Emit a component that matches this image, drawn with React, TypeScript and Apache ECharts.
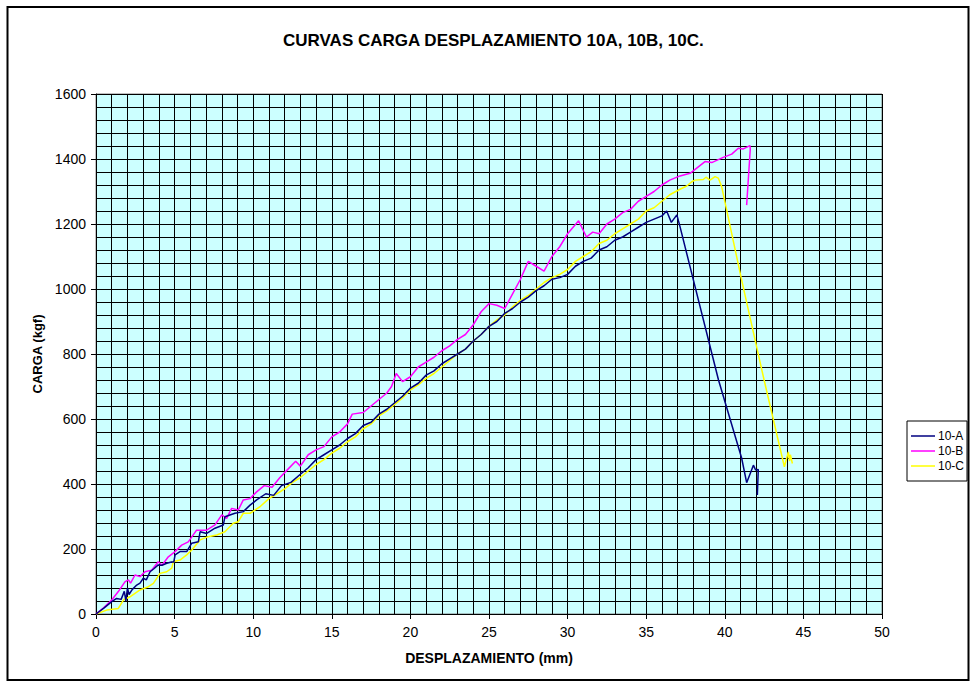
import React, { useEffect, useRef } from "react";
import * as echarts from "echarts";

const titleText = "CURVAS CARGA DESPLAZAMIENTO 10A, 10B, 10C.";
const xAxisName = "DESPLAZAMIENTO (mm)";
const yAxisName = "CARGA (kgf)";
const seriesNames = ["10-A", "10-B", "10-C"];
const seriesColors = ["#000080", "#FF00FF", "#FFFF00"];

// 10-A
const aX = [0, 0.5, 1.0, 1.31, 1.6, 1.8, 1.9, 2.0, 2.1, 2.3, 2.59, 2.8, 3.01, 3.2, 3.44, 3.7, 3.96, 4.2, 4.5, 4.8, 4.95, 5.03, 5.34, 5.77, 6.09, 6.51, 6.62, 7.04, 7.57, 8.1, 8.2, 8.84, 9.37, 9.8, 10.22, 10.8, 11.3, 11.8, 12.4, 13, 13.5, 14, 14.5, 15, 15.5, 16, 16.5, 17, 17.5, 18, 18.5, 19, 19.5, 20, 20.5, 21, 21.5, 22, 22.5, 23, 23.5, 24, 24.5, 25, 25.5, 26, 26.5, 27, 27.5, 28, 28.5, 29, 29.5, 30, 30.5, 31, 31.5, 32, 32.5, 33, 33.5, 34, 34.5, 35, 35.5, 36, 36.3, 36.6, 36.95, 37.15, 38.0, 39.6, 41.07, 41.39, 41.6, 41.82, 41.96, 42.13, 42.07];
const aY = [0, 18, 38, 48, 45, 70, 40, 80, 60, 75, 89, 95, 110, 105, 130, 140, 151, 150, 156, 160, 160, 182, 192, 192, 218, 222, 253, 248, 264, 274, 299, 310, 315, 335, 351, 370, 365, 395, 405, 430, 450, 475, 490, 505, 520, 540, 555, 580, 590, 615, 630, 650, 670, 695, 710, 735, 748, 770, 785, 800, 815, 840, 860, 885, 900, 925, 940, 960, 975, 995, 1010, 1030, 1035, 1045, 1070, 1085, 1095, 1120, 1130, 1150, 1160, 1175, 1190, 1205, 1215, 1225, 1240, 1205, 1228, 1192, 1028, 720, 480, 404, 430, 458, 443, 445, 366];

// 10-B
const bX = [0, 0.5, 1.0, 1.42, 1.84, 2.06, 2.2, 2.48, 2.8, 3.12, 3.54, 3.96, 4.2, 4.6, 5.03, 5.45, 5.87, 6.4, 7.04, 7.57, 8.0, 8.31, 8.63, 9.05, 9.37, 9.8, 10.2, 10.7, 11.2, 11.7, 12.2, 12.7, 13.0, 13.5, 14, 14.5, 15, 15.5, 16, 16.3, 17, 17.5, 18, 18.5, 18.8, 19.1, 19.5, 20, 20.5, 21, 21.5, 22, 22.5, 23, 23.5, 24, 24.5, 25, 25.5, 26, 26.5, 27, 27.5, 28, 28.5, 29, 29.5, 30, 30.7, 31.2, 31.6, 32, 32.5, 33, 33.5, 34, 34.5, 35, 35.5, 36, 36.5, 37.15, 37.79, 38.74, 39.17, 39.9, 40.44, 40.86, 41.18, 41.6, 41.62, 41.39];
const bY = [0, 20, 43, 69, 99, 105, 95, 120, 115, 130, 135, 161, 150, 176, 192, 212, 222, 258, 258, 274, 305, 294, 325, 320, 351, 355, 375, 395, 390, 420, 445, 470, 455, 490, 505, 515, 545, 560, 585, 615, 620, 640, 660, 680, 700, 740, 715, 730, 760, 775, 790, 810, 825, 845, 860, 890, 930, 955, 950, 940, 985, 1030, 1085, 1070, 1055, 1100, 1130, 1170, 1210, 1160, 1175, 1170, 1200, 1215, 1235, 1245, 1270, 1285, 1300, 1320, 1335, 1348, 1356, 1392, 1389, 1405, 1415, 1433, 1431, 1441, 1430, 1258];

// 10-C
const cX = [0, 0.68, 1.42, 1.74, 2.16, 2.8, 3.33, 3.65, 4.07, 4.5, 4.82, 4.92, 5.34, 5.77, 6.09, 6.62, 7.14, 7.68, 8.2, 8.73, 9.05, 9.37, 9.8, 10.43, 11, 11.5, 12, 12.5, 13, 13.5, 14, 14.5, 15, 15.5, 16, 16.5, 17, 17.5, 18, 18.5, 19, 19.5, 20, 20.5, 21, 21.5, 22, 22.5, 23, 23.5, 24, 24.5, 25, 25.5, 26, 26.5, 27, 27.5, 28, 28.5, 29, 29.5, 30, 30.5, 31, 31.5, 32, 32.5, 33, 33.5, 34, 34.5, 35, 35.5, 36, 36.5, 37.15, 37.58, 37.9, 38.1, 38.63, 38.8, 39.06, 39.38, 39.59, 39.8, 41.07, 42.5, 43.79, 44.04, 44.12, 44.17, 44.3];
const cY = [0, 12, 17, 43, 53, 74, 84, 94, 125, 130, 141, 161, 166, 182, 197, 228, 238, 243, 253, 279, 284, 310, 310, 330, 355, 370, 385, 405, 420, 440, 460, 475, 495, 510, 530, 545, 570, 585, 610, 625, 645, 665, 690, 705, 725, 740, 760, 780, 800, 815, 840, 860, 885, 905, 920, 945, 965, 980, 1000, 1020, 1035, 1045, 1060, 1085, 1100, 1115, 1140, 1150, 1170, 1185, 1200, 1215, 1240, 1250, 1270, 1290, 1307, 1317, 1330, 1335, 1337, 1344, 1335, 1346, 1341, 1315, 1028, 720, 453, 499, 470, 490, 463];

const pairs = (xs: number[], ys: number[]) => xs.map((x, i) => [x, ys[i]]);

const FONT = "'Liberation Sans', Arial, sans-serif";

export default function App() {
  const ref = useRef<HTMLDivElement>(null);
  useEffect(() => {
    if (!ref.current) return;
    const chart = echarts.init(ref.current, null, { renderer: "svg" });
    const datasets = [pairs(aX, aY), pairs(bX, bY), pairs(cX, cY)];
    chart.setOption({
      animation: false,
      backgroundColor: "#ffffff",
      textStyle: { fontFamily: FONT },
      title: {
        text: titleText,
        left: 283,
        top: 32,
        padding: 0,
        textStyle: { fontSize: 17, fontWeight: "bold", color: "#000", fontFamily: FONT },
      },
      legend: {
        data: seriesNames,
        orient: "vertical",
        left: 907,
        top: 421,
        padding: [9, 3, 9, 4],
        icon: "rect",
        itemWidth: 24,
        itemHeight: 1.5,
        itemGap: 3,
        borderColor: "#000",
        borderWidth: 1,
        backgroundColor: "#fff",
        textStyle: { fontSize: 12, color: "#000", fontFamily: FONT, padding: [0, 0, 0, -2] },
      },
      grid: {
        left: 96,
        top: 94,
        right: 94,
        bottom: 73,
        show: true,
        backgroundColor: "#CCFFFF",
        borderColor: "#808080",
        borderWidth: 1,
      },
      xAxis: {
        type: "value",
        min: 0,
        max: 50,
        interval: 5,
        name: xAxisName,
        nameLocation: "middle",
        nameGap: 37,
        nameTextStyle: { fontSize: 14, fontWeight: "bold", color: "#000", fontFamily: FONT, verticalAlign: "top" },
        axisLine: { show: true, lineStyle: { color: "#000", width: 1 } },
        axisTick: { show: true, length: 5, lineStyle: { color: "#000" } },
        axisLabel: { fontSize: 14, color: "#000", margin: 11, fontFamily: FONT, formatter: (v: number) => String(v) },
        splitLine: { show: true, lineStyle: { color: "#000", width: 1 } },
        minorTick: { show: false, splitNumber: 5 },
        minorSplitLine: { show: true, lineStyle: { color: "#000", width: 1 } },
      },
      yAxis: {
        type: "value",
        min: 0,
        max: 1600,
        interval: 200,
        name: yAxisName,
        nameLocation: "middle",
        nameGap: 49,
        nameRotate: 90,
        nameTextStyle: { fontSize: 13, fontWeight: "bold", color: "#000", fontFamily: FONT },
        axisLine: { show: true, lineStyle: { color: "#000", width: 1 } },
        axisTick: { show: true, length: 5, lineStyle: { color: "#000" } },
        axisLabel: { fontSize: 14, color: "#000", margin: 10, fontFamily: FONT, formatter: (v: number) => String(v) },
        splitLine: { show: true, lineStyle: { color: "#000", width: 1 } },
        minorTick: { show: false, splitNumber: 5 },
        minorSplitLine: { show: true, lineStyle: { color: "#000", width: 1 } },
      },
      graphic: [
        {
          type: "rect",
          shape: { x: 7.5, y: 7, width: 961, height: 673 },
          style: { fill: "none", stroke: "#000", lineWidth: 2 },
          silent: true,
          z: 100,
        },
      ],
      series: seriesNames.map((name, i) => ({
        name,
        type: "line",
        data: datasets[i],
        symbol: "none",
        showSymbol: false,
        color: seriesColors[i],
        lineStyle: { color: seriesColors[i], width: 1.5 },
        z: 10 - i,
      })),
    });
    return () => chart.dispose();
  }, []);
  return (
    <div
      ref={ref}
      style={{ position: "absolute", left: 0, top: 0, width: 976, height: 687 }}
    />
  );
}
